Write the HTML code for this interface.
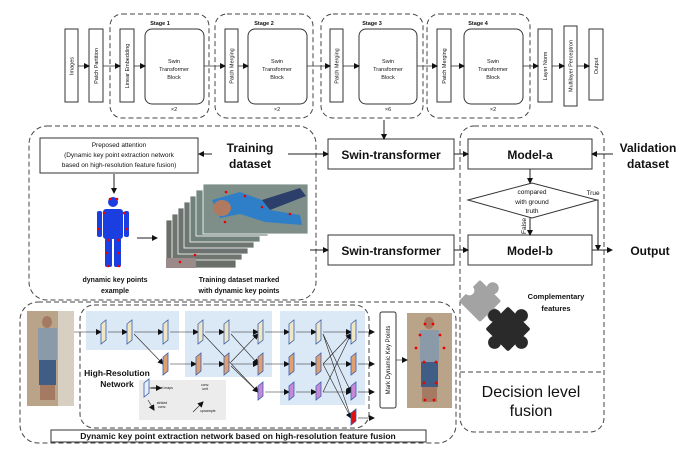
<!DOCTYPE html>
<html><head><meta charset="utf-8"><style>
html,body{margin:0;padding:0;background:#fff}
svg{display:block}
text{font-family:"Liberation Sans",sans-serif;fill:#111}
.b{font-weight:bold}
</style></head><body>
<svg width="686" height="461" viewBox="0 0 686 461" xmlns="http://www.w3.org/2000/svg">
<defs>
<marker id="a" markerWidth="6" markerHeight="6" refX="5" refY="3" orient="auto" markerUnits="userSpaceOnUse"><path d="M0,0 L6,3 L0,6 z" fill="#111"/></marker>
</defs>
<g fill="none" stroke="#333" stroke-width="1">
<g stroke-dasharray="5,3" stroke="#444">
<rect x="110" y="14" width="99" height="104" rx="12"/>
<rect x="215" y="14" width="98" height="104" rx="12"/>
<rect x="321" y="14" width="102" height="104" rx="12"/>
<rect x="427" y="14" width="103" height="104" rx="12"/>
</g>
<rect x="65" y="29" width="13" height="73"/>
<rect x="89" y="29" width="14" height="73"/>
<rect x="120" y="29" width="14" height="73"/>
<rect x="145" y="29" width="59" height="75" rx="7"/>
<rect x="225" y="29" width="13" height="73"/>
<rect x="248" y="29" width="59" height="75" rx="7"/>
<rect x="330" y="29" width="13" height="73"/>
<rect x="359" y="29" width="58" height="75" rx="7"/>
<rect x="437" y="29" width="14" height="73"/>
<rect x="464" y="29" width="59" height="75" rx="7"/>
<rect x="538" y="29" width="14" height="73"/>
<rect x="564" y="26" width="13" height="80"/>
<rect x="589" y="29" width="14" height="71"/>
</g>
<g stroke="#333" stroke-width="0.8" marker-end="url(#a)">
<line x1="78" y1="66" x2="89" y2="66"/><line x1="103" y1="66" x2="120" y2="66"/>
<line x1="134" y1="66" x2="145" y2="66"/><line x1="204" y1="66" x2="225" y2="66"/>
<line x1="238" y1="66" x2="248" y2="66"/><line x1="307" y1="66" x2="330" y2="66"/>
<line x1="343" y1="66" x2="359" y2="66"/><line x1="417" y1="66" x2="437" y2="66"/>
<line x1="451" y1="66" x2="464" y2="66"/><line x1="523" y1="66" x2="538" y2="66"/>
<line x1="552" y1="66" x2="564" y2="66"/><line x1="577" y1="66" x2="589" y2="66"/>
</g>
<g font-size="5.5" text-anchor="middle">
<text x="160" y="25" class="b">Stage 1</text><text x="264" y="25" class="b">Stage 2</text>
<text x="372" y="25" class="b">Stage 3</text><text x="478" y="25" class="b">Stage 4</text>
<g font-size="5.5"><text x="174" y="63">Swin</text><text x="174" y="71">Transformer</text><text x="174" y="79">Block</text>
<text x="277" y="63">Swin</text><text x="277" y="71">Transformer</text><text x="277" y="79">Block</text>
<text x="388" y="63">Swin</text><text x="388" y="71">Transformer</text><text x="388" y="79">Block</text>
<text x="493" y="63">Swin</text><text x="493" y="71">Transformer</text><text x="493" y="79">Block</text></g>
<text x="174" y="111">×2</text><text x="277" y="111">×2</text><text x="388" y="111">×6</text><text x="493" y="111">×2</text>
<text transform="translate(73.5,66) rotate(-90)">Images</text>
<text transform="translate(98,66) rotate(-90)">Patch Partition</text>
<text transform="translate(129,66) rotate(-90)">Linear Embedding</text>
<text transform="translate(233.5,66) rotate(-90)">Patch Merging</text>
<text transform="translate(338.5,66) rotate(-90)">Patch Merging</text>
<text transform="translate(446,66) rotate(-90)">Patch Merging</text>
<text transform="translate(547,66) rotate(-90)">Layer Norm</text>
<text transform="translate(572.5,66) rotate(-90)">Multilayer Perceptron</text>
<text transform="translate(598,66) rotate(-90)">Output</text>
</g>

<g fill="none" stroke="#444" stroke-width="1" stroke-dasharray="5,3">
<rect x="29" y="126" width="287" height="174" rx="18"/>
<rect x="460" y="126" width="144" height="306" rx="14"/>
<line x1="460" y1="372" x2="604" y2="372"/>
<rect x="20" y="302" width="436" height="141" rx="18"/>
<rect x="80" y="305" width="289" height="123" rx="14"/>
</g>
<g fill="#fff" stroke="#333" stroke-width="1">
<rect x="40" y="138" width="158" height="35"/>
<rect x="328" y="139" width="126" height="30"/>
<rect x="468" y="139" width="124" height="30"/>
<rect x="328" y="235" width="126" height="30"/>
<rect x="468" y="235" width="124" height="30"/>
<polygon points="468,200 532,183 597,200 532,218"/>
</g>
<g stroke="#222" stroke-width="1" fill="none" marker-end="url(#a)">
<line x1="384" y1="120" x2="384" y2="139"/>
<line x1="212" y1="154" x2="199" y2="154"/>
<line x1="288" y1="154" x2="328" y2="154"/>
<line x1="454" y1="154" x2="468" y2="154"/>
<line x1="613" y1="154" x2="592" y2="154"/>
<line x1="530" y1="169" x2="530" y2="183"/>
<line x1="530" y1="218" x2="530" y2="235"/>
<polyline points="597,200 598,200 598,250"/>
<line x1="310" y1="250" x2="328" y2="250"/>
<line x1="454" y1="250" x2="468" y2="250"/>
<line x1="592" y1="250" x2="612" y2="250"/>
<line x1="114" y1="174" x2="114" y2="193"/>
<line x1="137" y1="238" x2="157" y2="238"/>
</g>
<g text-anchor="middle">
<text x="119" y="147" font-size="6.5">Preposed attention</text>
<text x="119" y="157" font-size="6.5">(Dynamic key point extraction network</text>
<text x="119" y="167" font-size="6.5">based on high-resolution feature fusion)</text>
<text x="250" y="152" font-size="12" class="b">Training</text>
<text x="250" y="168" font-size="12" class="b">dataset</text>
<text x="391" y="159" font-size="12" class="b">Swin-transformer</text>
<text x="391" y="255" font-size="12" class="b">Swin-transformer</text>
<text x="530" y="159" font-size="12" class="b">Model-a</text>
<text x="530" y="255" font-size="12" class="b">Model-b</text>
<text x="648" y="152" font-size="12" class="b">Validation</text>
<text x="648" y="168" font-size="12" class="b">dataset</text>
<text x="650" y="255" font-size="12" class="b">Output</text>
<text x="532" y="194" font-size="6.5">compared</text>
<text x="532" y="204" font-size="6.5">with ground</text>
<text x="532" y="213" font-size="6.5">truth</text>
<text x="593" y="195" font-size="6.5">True</text>
<text transform="translate(526,226) rotate(-90)" font-size="6.5">False</text>
<text x="115" y="282" font-size="7" class="b">dynamic key points</text>
<text x="115" y="293" font-size="7" class="b">example</text>
<text x="239" y="282" font-size="7" class="b">Training dataset marked</text>
<text x="239" y="293" font-size="7" class="b">with dynamic key points</text>
<text x="556" y="299" font-size="7.5" class="b">Complementary</text>
<text x="556" y="311" font-size="7.5" class="b">features</text>
<text x="531" y="397" font-size="16">Decision level</text>
<text x="531" y="416" font-size="16">fusion</text>
</g>

<g fill="#1a3ee0">
<circle cx="113" cy="202" r="5"/>
<rect x="103" y="209" width="20" height="30" rx="3"/>
<rect x="97" y="211" width="5" height="26" rx="2"/>
<rect x="124" y="211" width="5" height="26" rx="2"/>
<rect x="105" y="238" width="7" height="29" rx="2"/>
<rect x="114" y="238" width="7" height="29" rx="2"/>
</g>
<g fill="#e00">
<circle cx="110" cy="199" r="1.3"/><circle cx="117" cy="199" r="1.3"/><circle cx="104" cy="213" r="1.3"/><circle cx="124" cy="213" r="1.3"/>
<circle cx="99" cy="229" r="1.3"/><circle cx="127" cy="229" r="1.3"/><circle cx="108" cy="240" r="1.3"/><circle cx="118" cy="240" r="1.3"/>
<circle cx="107" cy="253" r="1.3"/><circle cx="119" cy="253" r="1.3"/><circle cx="108" cy="266" r="1.3"/><circle cx="119" cy="266" r="1.3"/>
</g>
<g stroke="#fff" stroke-width="0.8">
<rect x="166" y="220" width="70" height="48" fill="#6a6f6a"/>
<rect x="172" y="214" width="70" height="46" fill="#707570"/>
<rect x="178" y="208" width="70" height="46" fill="#6b726f"/>
<rect x="184" y="202" width="70" height="46" fill="#6e7672"/>
<rect x="190" y="196" width="70" height="46" fill="#70807a"/>
<rect x="196" y="190" width="72" height="46" fill="#748680"/>
<rect x="203" y="184" width="105" height="50" fill="#7e8f8a"/>
</g>
<rect x="166" y="258" width="30" height="10" fill="#9b8a8a"/>
<path d="M212,200 L240,192 L262,200 L270,210 L300,215 L302,225 L265,222 L240,214 L220,218 Z" fill="#2f7fc8"/>
<path d="M262,200 L300,188 L306,196 L270,210 Z" fill="#2b3f6a"/>
<ellipse cx="222" cy="208" rx="9" ry="8" fill="#b07a60"/>
<g fill="#e00"><circle cx="226" cy="192" r="1.3"/><circle cx="245" cy="196" r="1.3"/><circle cx="262" cy="207" r="1.3"/><circle cx="290" cy="214" r="1.3"/><circle cx="225" cy="222" r="1.3"/><circle cx="195" cy="255" r="1.3"/><circle cx="180" cy="262" r="1.3"/></g>

<!-- puzzle -->
<g transform="translate(480,301) rotate(45)" fill="#a3a3a3">
<rect x="-15" y="-15" width="30" height="30" rx="2"/>
<circle cx="0" cy="-18" r="6"/><circle cx="18" cy="0" r="6"/>
<circle cx="-15" cy="0" r="5" fill="#fff"/>
</g>
<g transform="translate(508,329) rotate(45)" fill="#2a2a2a">
<rect x="-16" y="-16" width="32" height="32" rx="2"/>
<circle cx="0" cy="-19" r="6.5"/><circle cx="19" cy="0" r="6.5"/><circle cx="0" cy="19" r="6.5"/><circle cx="-19" cy="0" r="6.5"/>
</g>

<rect x="27" y="311" width="47" height="95" fill="#b9a48a"/>
<rect x="58" y="311" width="16" height="95" fill="#d7cfc2"/>
<ellipse cx="47" cy="322" rx="5" ry="6" fill="#a57a62"/>
<rect x="38" y="328" width="19" height="32" fill="#8a9aa8"/>
<rect x="39" y="360" width="17" height="25" fill="#3f5d85"/>
<rect x="40" y="385" width="15" height="15" fill="#a57a62"/>
<rect x="407" y="313" width="45" height="95" fill="#b9a48a"/>
<rect x="420" y="330" width="19" height="32" fill="#8a9aa8"/>
<ellipse cx="429" cy="323" rx="5" ry="6" fill="#a57a62"/>
<rect x="421" y="362" width="17" height="25" fill="#3f5d85"/>
<rect x="422" y="387" width="15" height="15" fill="#a57a62"/>
<g fill="#e00"><circle cx="425" cy="324" r="1.4"/><circle cx="433" cy="324" r="1.4"/><circle cx="420" cy="335" r="1.4"/><circle cx="440" cy="335" r="1.4"/><circle cx="416" cy="348" r="1.4"/><circle cx="444" cy="348" r="1.4"/><circle cx="424" cy="362" r="1.4"/><circle cx="436" cy="362" r="1.4"/><circle cx="424" cy="383" r="1.4"/><circle cx="436" cy="383" r="1.4"/><circle cx="425" cy="400" r="1.4"/><circle cx="434" cy="400" r="1.4"/></g>

<g fill="#dbe8f6">
<rect x="86" y="311" width="93" height="39"/>
<rect x="185" y="311" width="87" height="66"/>
<rect x="280" y="311" width="85" height="94"/>
</g>
<rect x="139" y="380" width="87" height="40" fill="#ececec"/>
<g stroke="#222" stroke-width="0.6" fill="none" marker-end="url(#a)">
<line x1="74" y1="332" x2="101" y2="332"/><line x1="108" y1="332" x2="127" y2="332"/><line x1="134" y1="332" x2="163" y2="332"/>
<line x1="170" y1="332" x2="198" y2="332"/><line x1="205" y1="332" x2="224" y2="332"/><line x1="231" y1="332" x2="258" y2="332"/>
<line x1="265" y1="332" x2="289" y2="332"/><line x1="296" y1="332" x2="316" y2="332"/><line x1="323" y1="332" x2="351" y2="332"/>
<line x1="134" y1="334" x2="163" y2="364"/><line x1="170" y1="364" x2="196" y2="364"/><line x1="203" y1="364" x2="224" y2="364"/><line x1="231" y1="364" x2="258" y2="364"/>
<line x1="265" y1="364" x2="289" y2="364"/><line x1="296" y1="364" x2="316" y2="364"/><line x1="323" y1="364" x2="351" y2="364"/>
<line x1="231" y1="366" x2="258" y2="392"/><line x1="265" y1="392" x2="289" y2="392"/><line x1="296" y1="392" x2="316" y2="392"/><line x1="323" y1="392" x2="351" y2="392"/>
<line x1="231" y1="334" x2="258" y2="364"/><line x1="231" y1="362" x2="258" y2="334"/><line x1="203" y1="334" x2="258" y2="392"/>
<line x1="323" y1="334" x2="351" y2="392"/><line x1="323" y1="364" x2="351" y2="334"/><line x1="323" y1="392" x2="351" y2="334"/><line x1="323" y1="334" x2="351" y2="418"/><line x1="323" y1="364" x2="351" y2="418"/>
<line x1="358" y1="332" x2="374" y2="332"/><line x1="358" y1="364" x2="374" y2="364"/><line x1="358" y1="392" x2="374" y2="392"/><line x1="358" y1="418" x2="374" y2="418"/>
<line x1="396" y1="360" x2="407" y2="360"/>
<line x1="147" y1="388" x2="161" y2="388"/><line x1="148" y1="400" x2="154" y2="410"/><line x1="193" y1="412" x2="203" y2="402"/>
</g>
<g stroke="#3a5fb0" stroke-width="0.8">
<g fill="#efe6c4">
<path d="M101,324 l5,-4 v20 l-5,4 z"/><path d="M127,324 l5,-4 v20 l-5,4 z"/><path d="M163,324 l5,-4 v20 l-5,4 z"/>
<path d="M198,324 l5,-4 v20 l-5,4 z"/><path d="M224,324 l5,-4 v20 l-5,4 z"/><path d="M258,324 l5,-4 v20 l-5,4 z"/>
<path d="M289,324 l5,-4 v20 l-5,4 z"/><path d="M316,324 l5,-4 v20 l-5,4 z"/><path d="M351,324 l5,-4 v20 l-5,4 z"/>
</g>
<g fill="#e0a070">
<path d="M163,357 l5,-4 v18 l-5,4 z"/><path d="M196,357 l5,-4 v18 l-5,4 z"/><path d="M224,357 l5,-4 v18 l-5,4 z"/><path d="M258,357 l5,-4 v18 l-5,4 z"/>
<path d="M289,357 l5,-4 v18 l-5,4 z"/><path d="M316,357 l5,-4 v18 l-5,4 z"/><path d="M351,357 l5,-4 v18 l-5,4 z"/>
</g>
<g fill="#c888d8">
<path d="M258,386 l5,-4 v14 l-5,4 z"/><path d="M289,386 l5,-4 v14 l-5,4 z"/><path d="M316,386 l5,-4 v14 l-5,4 z"/><path d="M351,386 l5,-4 v14 l-5,4 z"/>
</g>
<path d="M351,413 l5,-4 v12 l-5,4 z" fill="#e01010"/>
<path d="M144,383 l5,-4 v14 l-5,4 z" fill="#e8eef8"/>
</g>
<rect x="380" y="312" width="16" height="96" fill="#fff" stroke="#333" stroke-width="1" rx="2"/>
<rect x="51" y="430" width="375" height="12" fill="#fff" stroke="#333" stroke-width="1"/>
<g text-anchor="middle">
<text transform="translate(390,360) rotate(-90)" font-size="6">Mark Dynamic Key Points</text>
<text x="117" y="376" font-size="8.5" class="b" fill="#333">High-Resolution</text>
<text x="117" y="387" font-size="8.5" class="b" fill="#333">Network</text>
<text x="238" y="439" font-size="8.5" class="b">Dynamic key point extraction network based on high-resolution feature fusion</text>
<g font-size="3.5"><text x="162" y="389">channel maps</text><text x="205" y="386">conv.</text><text x="205" y="390">unit</text>
<text x="162" y="404">strided</text><text x="162" y="408">conv.</text><text x="208" y="412">upsample</text></g>
</g>
</svg>
</body></html>
